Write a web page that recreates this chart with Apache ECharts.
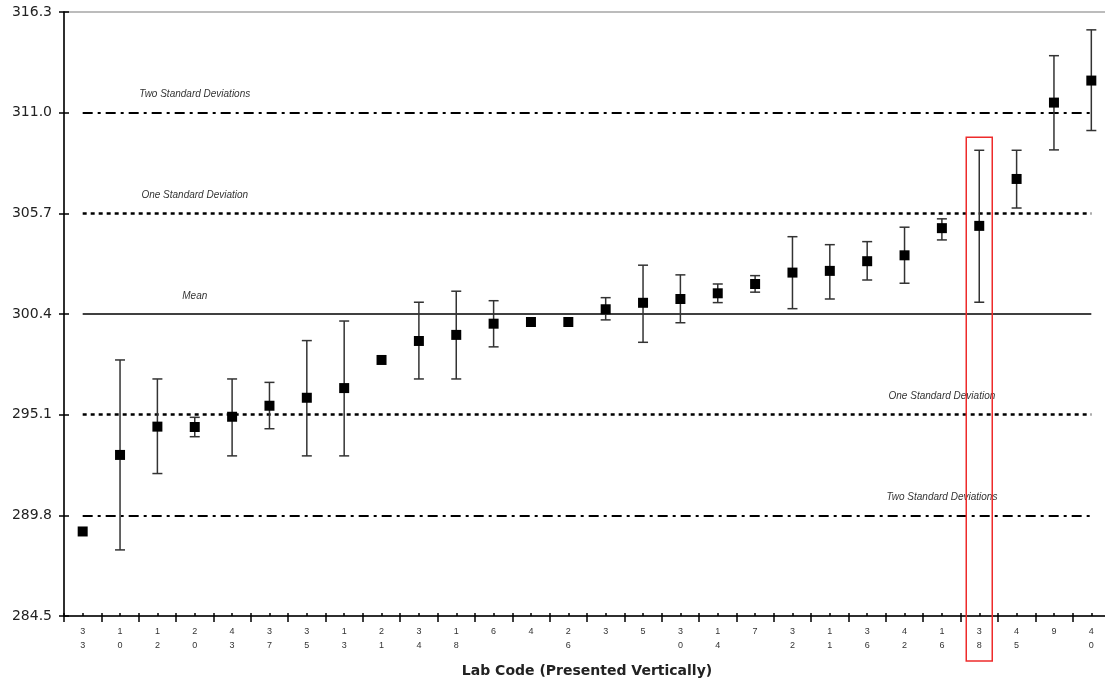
<!DOCTYPE html>
<html>
<head>
<meta charset="utf-8">
<script src="https://cdn.jsdelivr.net/npm/echarts@6/dist/echarts.min.js"></script>
<style>
  html, body { margin: 0; padding: 0; background: #fff; }
  #main { width: 1105px; height: 683px; }
</style>
</head>
<body>
<div id="main"></div>
<script>
// ---- Data ----
const labCodes = ['33','10','12','20','43','37','35','13','21','34','18','6','4','26','3','5','30','14','7','32','11','36','42','16','38','45','9','40'];
const means = [288.95, 292.98, 294.47, 294.45, 294.99, 295.57, 295.99, 296.50, 297.98, 298.98, 299.30, 299.89, 299.98, 299.98, 300.65, 300.99, 301.19, 301.49, 301.98, 302.58, 302.67, 303.18, 303.49, 304.92, 305.04, 307.51, 311.53, 312.69];
const lows  = [null, 287.98, 292.00, 293.94, 292.93, 294.36, 292.93, 292.93, null, 296.98, 296.98, 298.67, null, null, 300.09, 298.91, 299.94, 301.00, 301.55, 300.68, 301.19, 302.19, 302.02, 304.30, 301.02, 305.98, 309.04, 310.06];
const highs = [null, 297.98, 296.98, 294.96, 296.98, 296.80, 299.00, 300.03, null, 301.02, 301.60, 301.10, null, null, 301.26, 302.97, 302.46, 301.98, 302.42, 304.47, 304.05, 304.21, 304.97, 305.41, 309.02, 309.02, 314.00, 315.36];
const yTicks = [284.5, 289.8, 295.1, 300.4, 305.7, 311.0, 316.3];
const refValues = [311.0, 305.7, 300.4, 295.1, 289.8];
const refKinds  = ['two', 'one', 'mean', 'one', 'two'];
const refLabels = ['Two Standard Deviations', 'One Standard Deviation', 'Mean', 'One Standard Deviation', 'Two Standard Deviations'];
const refLabelCodes = ['20', '20', '20', '16', '16'];
const highlightCode = '38';
const highlightTop = 309.7;
const xTitle = 'Lab Code (Presented Vertically)';

// ---- Styles ----
const lineStyles = {
  two:  { color: '#000', width: 2, type: [10, 5, 3, 5] },
  one:  { color: '#000', width: 2.5, type: [4, 4] },
  mean: { color: '#000', width: 1.5, type: 'solid' }
};
const FONT = '"Liberation Sans", Arial, sans-serif';
const WIDE = '"DejaVu Sans", "Liberation Sans", sans-serif';

const chart = echarts.init(document.getElementById('main'));

const errData = [];
labCodes.forEach((c, i) => { if (lows[i] != null) errData.push([i, lows[i], highs[i]]); });

const markLineData = refValues.map((v, k) => [
  { coord: [0, v], lineStyle: lineStyles[refKinds[k]] },
  { coord: [labCodes.length - 1, v] }
]);
const markPointData = refValues.map((v, k) => ({
  name: refLabels[k],
  coord: [labCodes.indexOf(refLabelCodes[k]), v]
}));

const option = {
  animation: false,
  backgroundColor: '#fff',
  textStyle: { fontFamily: FONT },
  grid: {
    left: 64, top: 12, width: 1046, height: 604,
    outerBoundsMode: 'none', containLabel: false,
    show: true, borderColor: '#a6a6a6', borderWidth: 1.5, backgroundColor: 'transparent'
  },
  xAxis: [
    {
      type: 'category', data: labCodes, position: 'bottom',
      axisLine: { onZero: false, lineStyle: { color: '#000', width: 1.5 } },
      axisTick: { show: true, interval: 0, length: 6, lineStyle: { color: '#000', width: 1.5 } },
      axisLabel: {
        interval: 0, fontSize: 9, lineHeight: 14, color: '#333', margin: 9, fontFamily: FONT,
        formatter: v => v.split('').join('\n')
      },
      splitLine: { show: false },
      name: xTitle, nameLocation: 'middle', nameGap: 48,
      nameTextStyle: { fontSize: 14, fontWeight: 'bold', color: '#222', fontFamily: WIDE }
    },
    {
      type: 'category', data: labCodes, position: 'bottom',
      axisLine: { show: false, onZero: false },
      axisTick: { show: true, inside: true, interval: 0, alignWithLabel: true, length: 3, lineStyle: { color: '#000', width: 1.5 } },
      axisLabel: { show: false }, splitLine: { show: false }
    },
    {
      type: 'category', data: labCodes, position: 'bottom',
      axisLine: { show: false, onZero: false },
      axisTick: { show: true, inside: true, interval: 0, length: 3, lineStyle: { color: '#000', width: 1.5 } },
      axisLabel: { show: false }, splitLine: { show: false }
    }
  ],
  yAxis: [
    {
      type: 'value', min: yTicks[0], max: yTicks[yTicks.length - 1], position: 'left',
      axisLine: { show: true, onZero: false, lineStyle: { color: '#000', width: 1.5 } },
      axisTick: { show: true, length: 5, customValues: yTicks, lineStyle: { color: '#000', width: 1.5 } },
      axisLabel: { customValues: yTicks, formatter: v => v.toFixed(1), fontSize: 14, color: '#222', margin: 12, fontFamily: WIDE },
      splitLine: { show: false }
    },
    {
      type: 'value', min: yTicks[0], max: yTicks[yTicks.length - 1], position: 'left',
      axisLine: { show: false, onZero: false },
      axisTick: { show: true, inside: true, length: 5, customValues: yTicks, lineStyle: { color: '#000', width: 1.5 } },
      axisLabel: { show: false }, splitLine: { show: false }
    }
  ],
  series: [
    {
      type: 'custom', xAxisIndex: 0, yAxisIndex: 0, z: 3,
      data: errData,
      encode: { x: 0, y: [1, 2] },
      renderItem: function (params, api) {
        const lo = api.coord([api.value(0), api.value(1)]);
        const hi = api.coord([api.value(0), api.value(2)]);
        const hw = 5;
        const st = { stroke: '#333', lineWidth: 1.5 };
        return {
          type: 'group',
          children: [
            { type: 'line', shape: { x1: hi[0], y1: hi[1], x2: lo[0], y2: lo[1] }, style: st },
            { type: 'line', shape: { x1: hi[0] - hw, y1: hi[1], x2: hi[0] + hw, y2: hi[1] }, style: st },
            { type: 'line', shape: { x1: lo[0] - hw, y1: lo[1], x2: lo[0] + hw, y2: lo[1] }, style: st }
          ]
        };
      }
    },
    {
      type: 'scatter', xAxisIndex: 0, yAxisIndex: 0, z: 4,
      data: means.map((v, i) => [i, v]),
      symbol: 'rect', symbolSize: 10,
      itemStyle: { color: '#000', opacity: 1 },
      emphasis: { disabled: true },
      markLine: {
        silent: true, symbol: ['none', 'none'], label: { show: false },
        z: 2,
        data: markLineData
      },
      markPoint: {
        silent: true, symbol: 'circle', symbolSize: 1,
        itemStyle: { color: 'rgba(0,0,0,0)' },
        label: {
          show: true, position: 'inside', offset: [0, -18], formatter: '{b}',
          fontSize: 10, fontStyle: 'italic', color: '#333', fontFamily: FONT
        },
        data: markPointData
      }
    }
  ]
};
chart.setOption(option);

// Red highlight box around the selected lab, positioned via the chart's scales
const ci = labCodes.indexOf(highlightCode);
const pTop = chart.convertToPixel({ xAxisIndex: 0, yAxisIndex: 0 }, [ci, highlightTop]);
const pBase = chart.convertToPixel({ xAxisIndex: 0, yAxisIndex: 0 }, [ci, yTicks[0]]);
const halfW = 13;
chart.setOption({
  graphic: [{
    type: 'rect', z: 10,
    shape: { x: pTop[0] - halfW, y: pTop[1], width: halfW * 2, height: (pBase[1] + 45) - pTop[1] },
    style: { fill: 'none', stroke: '#ee2b2b', lineWidth: 1.5 }
  }]
});
</script>
</body>
</html>
